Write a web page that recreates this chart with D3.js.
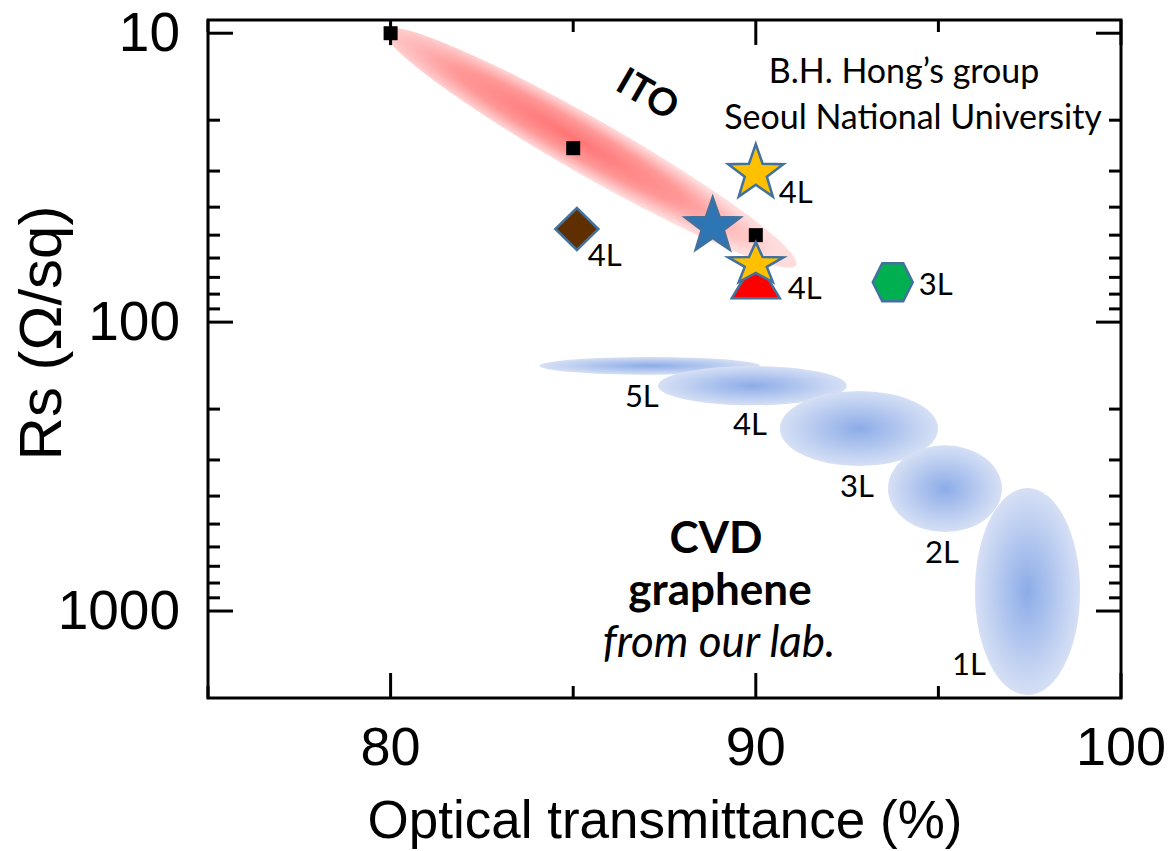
<!DOCTYPE html>
<html><head><meta charset="utf-8">
<script src="https://cdn.jsdelivr.net/npm/d3@7"></script>
<style>body{margin:0;background:#fff} svg{display:block}</style>
</head><body>
<svg id="c" width="1169" height="851"></svg>
<script>
// ---------------- data ----------------
const xMajorTicks = [80, 90, 100];
const xMinorTicks = [75, 85, 95];
const yMajorTicks = [10, 100, 1000];
const yTickLabels = ["10", "100", "1000"];
const yMinorTicks = [20,30,40,50,60,70,80,90,200,300,400,500,600,700,800,900];

// ITO reference points
const itoT  = [80, 85, 90];
const itoRs = [10, 25, 50];
const itoErrLo = [9.2, null, null];
const itoErrHi = [11.0, null, null];
// ITO band (ellipse) end points in data units
const itoBandStart = [79.85, 9.76];
const itoBandEnd   = [91.1, 63.5];

// CVD graphene regions
const cvdLayers = ["5L", "4L", "3L", "2L", "1L"];
const cvdTmin  = [84.08, 87.32, 90.66, 93.62, 96.0];
const cvdTmax  = [90.11, 92.49, 94.99, 96.74, 98.88];
const cvdRsMin = [132, 142, 173, 267, 375];
const cvdRsMax = [152, 194, 315, 533, 1954];
const cvdLabelT  = [86.88, 89.84, 92.77, 95.10, 95.84];
const cvdLabelRs = [197, 246, 403, 682, 1663];

// other reported results
const markerId    = ["blueStar", "brownDiamond", "greenHex", "redTriangle", "goldStarTop", "goldStarLow"];
const markerShape = ["star", "diamond", "hexagon", "triangle", "star", "starFlat"];
const markerT     = [88.82, 85.1, 93.75, 90, 90, 90];
const markerRs    = [46.6, 47.6, 72.8, 70.5, 30.5, 63];
const markerLabel = ["", "4L", "3L", "4L", "4L", ""];

// ---------------- styles ----------------
const fills = {blueStar:"#2e75b6", brownDiamond:"#5f2f00", greenHex:"#00b050",
               redTriangle:"#ff0000", goldStarTop:"#ffc000", goldStarLow:"#ffc000"};
const labelOffset = {brownDiamond:[11,37], greenHex:[26,13], redTriangle:[32,21], goldStarTop:[23,30]};
const labelFont = "Lato, 'Open Sans', sans-serif";
const axisFont = "'Liberation Sans', Arial, sans-serif";

// ---------------- scales ----------------
const svg = d3.select("#c");
const L = 208, R = 1121, T = 20, B = 698;
const x = d3.scaleLinear().domain([75, 100]).range([L, R]);
const y = d3.scaleLog().domain([9, 2000]).range([T, B]);

const defs = svg.append("defs");
const bg = defs.append("radialGradient").attr("id", "blueGrad")
  .attr("cx", "50%").attr("cy", "50%").attr("r", "50%");
bg.append("stop").attr("offset", "0%").attr("stop-color", "#8cace8");
bg.append("stop").attr("offset", "100%").attr("stop-color", "#d6e0f5");
const rg = defs.append("radialGradient").attr("id", "redGrad")
  .attr("cx", "45%").attr("cy", "50%").attr("r", "50%");
rg.append("stop").attr("offset", "0%").attr("stop-color", "#ff7474");
rg.append("stop").attr("offset", "55%").attr("stop-color", "#ff9898");
rg.append("stop").attr("offset", "100%").attr("stop-color", "#ffdcdc");

// ---------------- ITO band ----------------
{
  const x0 = x(itoBandStart[0]), y0 = y(itoBandStart[1]);
  const x1 = x(itoBandEnd[0]), y1 = y(itoBandEnd[1]);
  const cx = (x0 + x1) / 2, cy = (y0 + y1) / 2;
  const len = Math.hypot(x1 - x0, y1 - y0) / 2;
  const ang = Math.atan2(y1 - y0, x1 - x0) * 180 / Math.PI;
  svg.append("ellipse").attr("cx", 0).attr("cy", 0).attr("rx", len).attr("ry", 28)
    .attr("transform", `translate(${cx},${cy}) rotate(${ang})`)
    .attr("fill", "url(#redGrad)");
}

// ---------------- CVD ellipses ----------------
svg.append("g").selectAll("ellipse").data(cvdLayers).join("ellipse")
  .attr("cx", (d, i) => (x(cvdTmin[i]) + x(cvdTmax[i])) / 2)
  .attr("cy", (d, i) => (y(cvdRsMin[i]) + y(cvdRsMax[i])) / 2)
  .attr("rx", (d, i) => (x(cvdTmax[i]) - x(cvdTmin[i])) / 2)
  .attr("ry", (d, i) => (y(cvdRsMax[i]) - y(cvdRsMin[i])) / 2)
  .attr("fill", "url(#blueGrad)");
svg.append("g").selectAll("text").data(cvdLayers).join("text")
  .attr("x", (d, i) => x(cvdLabelT[i])).attr("y", (d, i) => y(cvdLabelRs[i]))
  .attr("text-anchor", "middle").attr("font-family", labelFont).attr("font-size", 31)
  .text(d => d);

// ---------------- ITO squares ----------------
itoT.forEach((t, i) => {
  if (itoErrLo[i] != null) {
    svg.append("line").attr("x1", x(t)).attr("x2", x(t))
      .attr("y1", y(itoErrLo[i])).attr("y2", y(itoErrHi[i]))
      .attr("stroke", "#000").attr("stroke-width", 2.5);
  }
});
svg.append("g").selectAll("rect").data(itoT).join("rect")
  .attr("x", (d) => x(d) - 7).attr("y", (d, i) => y(itoRs[i]) - 7)
  .attr("width", 14).attr("height", 14).attr("fill", "#000");

// ---------------- markers ----------------
function starPts(r, inner, sy) {
  const p = [];
  for (let k = 0; k < 10; k++) {
    const a = -Math.PI / 2 + k * Math.PI / 5;
    const rr = k % 2 ? r * inner : r;
    p.push([rr * Math.cos(a), rr * Math.sin(a) * sy]);
  }
  return p;
}
function shapePts(s) {
  if (s === "star") return starPts(29, 0.4, 1);
  if (s === "starFlat") return starPts(29, 0.4, 0.76);
  if (s === "diamond") return [[0, -21], [21.5, 0], [0, 21], [-21.5, 0]];
  if (s === "hexagon") return [[-20, 0], [-10.5, -19], [10.5, -19], [20, 0], [10.5, 19], [-10.5, 19]];
  if (s === "triangle") return [[0, -20], [24, 20], [-24, 20]];
}
const mk = svg.append("g");
markerId.forEach((id, i) => {
  const cx = x(markerT[i]), cy = y(markerRs[i]);
  mk.append("polygon")
    .attr("points", shapePts(markerShape[i]).map(p => [p[0] + cx, p[1] + cy].join(",")).join(" "))
    .attr("fill", fills[id]).attr("stroke", "#41719c").attr("stroke-width", 2.5)
    .attr("stroke-linejoin", "miter");
});
markerId.forEach((id, i) => {
  if (!markerLabel[i]) return;
  const o = labelOffset[id];
  svg.append("text").attr("x", x(markerT[i]) + o[0]).attr("y", y(markerRs[i]) + o[1])
    .attr("font-family", labelFont).attr("font-size", 31).text(markerLabel[i]);
});

// ---------------- annotations ----------------
svg.append("text").attr("transform", `translate(${x(87.0)},${y(16.6)}) rotate(30)`)
  .attr("text-anchor", "middle").attr("dominant-baseline", "middle")
  .attr("font-family", labelFont).attr("font-weight", "bold").attr("font-size", 38).text("ITO");
const credit = svg.append("text").attr("font-family", labelFont).attr("font-size", 34)
  .attr("text-anchor", "middle");
credit.append("tspan").attr("x", 904).attr("y", 83).text("B.H. Hong’s group");
credit.append("tspan").attr("x", 913).attr("y", 129).text("Seoul National University");
const cvd = svg.append("text").attr("font-family", labelFont).attr("font-size", 44)
  .attr("text-anchor", "middle");
cvd.append("tspan").attr("x", 716).attr("y", 553).attr("font-weight", "bold").text("CVD");
cvd.append("tspan").attr("x", 720).attr("y", 605).attr("font-weight", "bold").text("graphene");
cvd.append("tspan").attr("x", 719).attr("y", 657).attr("font-style", "italic").text("from our lab.");

// ---------------- frame & ticks ----------------
const ax = svg.append("g").attr("stroke", "#000").attr("stroke-width", 3).attr("fill", "none");
ax.append("rect").attr("x", L).attr("y", T).attr("width", R - L).attr("height", B - T);
const tk = (x1, y1, x2, y2) => ax.append("line").attr("x1", x1).attr("y1", y1).attr("x2", x2).attr("y2", y2);
xMajorTicks.forEach(v => { tk(x(v), B, x(v), B - 25); tk(x(v), T, x(v), T + 25); });
xMinorTicks.forEach(v => { tk(x(v), B, x(v), B - 12); tk(x(v), T, x(v), T + 12); });
yMajorTicks.forEach(v => { tk(L, y(v), L + 25, y(v)); tk(R, y(v), R - 25, y(v)); });
yMinorTicks.forEach(v => { tk(L, y(v), L + 12, y(v)); tk(R, y(v), R - 12, y(v)); });

svg.append("g").selectAll("text").data(xMajorTicks).join("text")
  .attr("x", d => x(d)).attr("y", 765).attr("text-anchor", "middle")
  .attr("font-family", axisFont).attr("font-size", 54).text(d => d);
svg.append("g").selectAll("text").data(yMajorTicks).join("text")
  .attr("x", 180).attr("y", d => y(d) + 18).attr("text-anchor", "end")
  .attr("font-family", axisFont).attr("font-size", 55).text((d, i) => yTickLabels[i]);
svg.append("text").attr("x", 665).attr("y", 838).attr("text-anchor", "middle")
  .attr("font-family", axisFont).attr("font-size", 53).text("Optical transmittance (%)");
svg.append("text").attr("transform", "translate(61,333) rotate(-90)").attr("text-anchor", "middle")
  .attr("font-family", axisFont).attr("font-size", 60).text("Rs (Ω/sq)");
</script>
</body></html>
